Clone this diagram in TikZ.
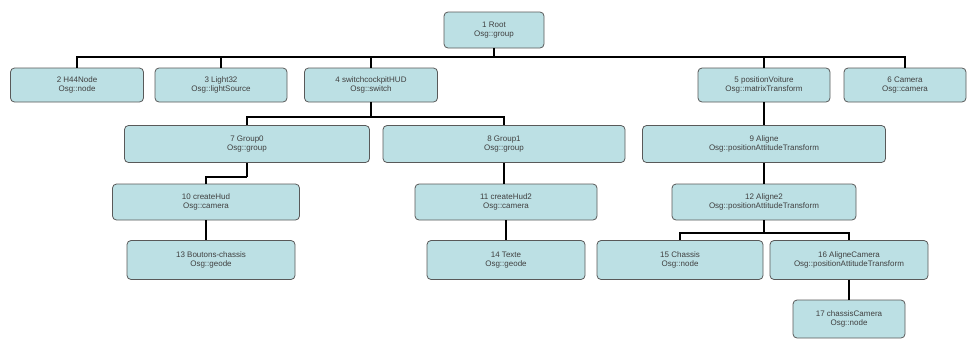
\documentclass[tikz,border=0pt]{standalone}
\usepackage{fontspec}
\setmainfont{Liberation Sans}
\definecolor{boxfill}{RGB}{188,224,228}
\begin{document}
\begin{tikzpicture}[x=1pt,y=-1pt,
  box/.style={draw=black!65, line width=0.8pt, fill=boxfill, rounded corners=4pt,
    align=center, font=\fontsize{8}{9.5}\selectfont, text=black!75, inner sep=1pt},
  conn/.style={draw=black, line width=1.6pt}]
\useasboundingbox (0,0) rectangle (972,341);
\newcommand{\bx}[7]{\node[box, minimum width=#4, minimum height=#5] (#1) at (#2,#3) {#6\\#7};}
\bx{n1}{494}{30}{100}{36}{1 Root}{Osg::group}
\bx{n2}{77}{85}{133}{34}{2 H44Node}{Osg::node}
\bx{n3}{221}{85}{132}{34}{3 Light32}{Osg::lightSource}
\bx{n4}{371}{85}{133}{34}{4 switchcockpitHUD}{Osg::switch}
\bx{n5}{764}{85}{132}{34}{5 positionVoiture}{Osg::matrixTransform}
\bx{n6}{905}{85}{122}{34}{6 Camera}{Osg::camera}
\bx{n7}{247}{144}{245}{37}{7 Group0}{Osg::group}
\bx{n8}{504}{144}{242}{37}{8 Group1}{Osg::group}
\bx{n9}{764}{144}{243}{37}{9 Aligne}{Osg::positionAttitudeTransform}
\bx{n10}{206}{202}{187}{36}{10 createHud}{Osg::camera}
\bx{n11}{506}{202}{182}{36}{11 createHud2}{Osg::camera}
\bx{n12}{764}{202}{184}{36}{12 Aligne2}{Osg::positionAttitudeTransform}
\bx{n13}{211}{260}{168}{39}{13 Boutons-chassis}{Osg::geode}
\bx{n14}{506}{260}{158}{39}{14 Texte}{Osg::geode}
\bx{n15}{680}{260}{166}{39}{15 Chassis}{Osg::node}
\bx{n16}{849}{260}{158}{39}{16 AligneCamera}{Osg::positionAttitudeTransform}
\bx{n17}{849}{319}{112}{38}{17 chassisCamera}{Osg::node}
\coordinate (b1) at (494,57);
\coordinate (b4) at (371,117);
\coordinate (b7) at (247,177);
\coordinate (b12) at (764,233);
\draw[conn] (n1.south) -- (b1);
\foreach \c in {n2,n3,n4,n5,n6} \draw[conn] (b1) -| (\c.north);
\draw[conn] (n4.south) -- (b4);
\draw[conn] (b4) -| (n7.north);
\draw[conn] (b4) -| (n8.north);
\draw[conn] (n5.south) -- (n9.north);
\draw[conn] (n7.south) -- (b7);
\draw[conn] (b7) -| (n10.north);
\draw[conn] (n8.south) -- (n8.south |- n11.north);
\draw[conn] (n9.south) -- (n12.north);
\draw[conn] (n10.south) -- (n10.south |- n13.north);
\draw[conn] (n11.south) -- (n14.north);
\draw[conn] (n12.south) -- (b12);
\draw[conn] (b12) -| (n15.north);
\draw[conn] (b12) -| (n16.north);
\draw[conn] (n16.south) -- (n17.north);
\end{tikzpicture}
\end{document}
